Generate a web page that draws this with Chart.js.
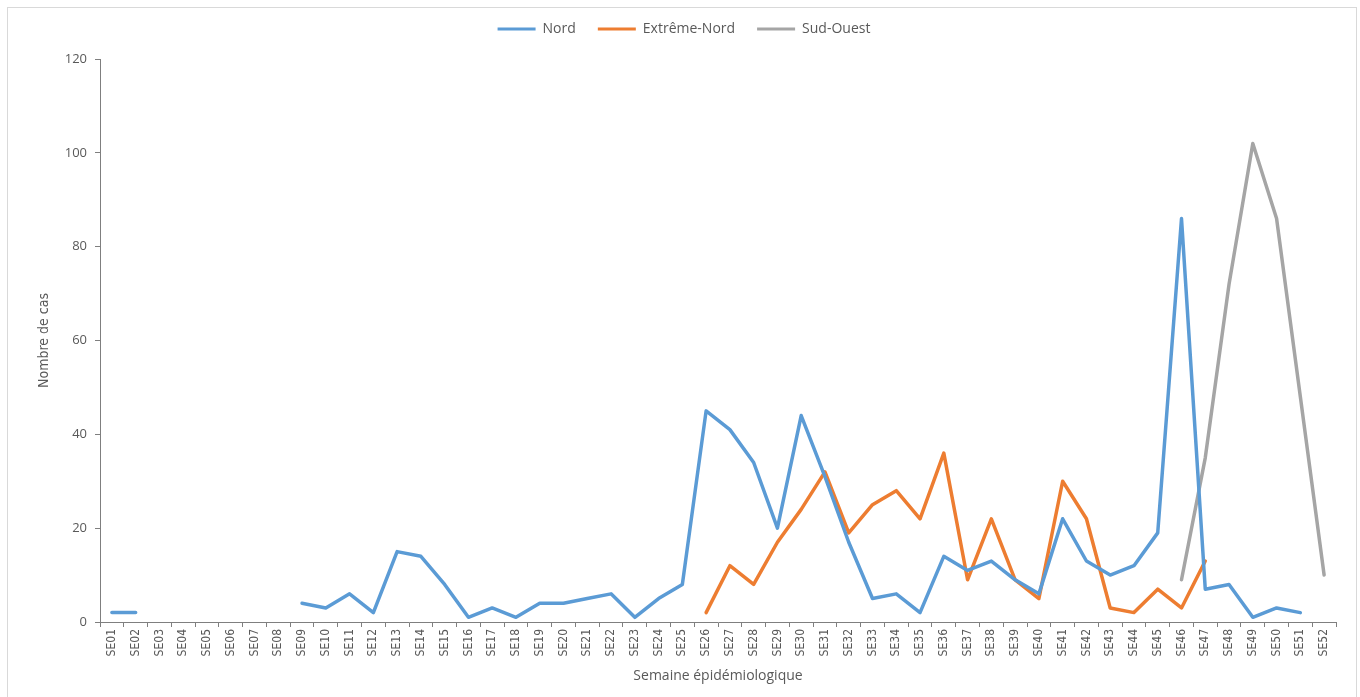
<!DOCTYPE html>
<html>
<head>
<meta charset="utf-8">
<script src="https://cdn.jsdelivr.net/npm/chart.js@4"></script>
<style>
  html, body { margin: 0; padding: 0; background: #fff; }
  #wrap { width: 1360px; height: 697px; }
</style>
</head>
<body>
<div id="wrap"><canvas id="casChart" width="1360" height="697"></canvas></div>
<script>
// Semaines épidémiologiques SE01..SE52
const semaines = [];
for (let i = 1; i <= 52; i++) semaines.push('SE' + String(i).padStart(2, '0'));

// Nombre de cas par semaine (null = pas de donnée)
const nord = [2, 2, null, null, null, null, null, null, 4, 3,
  6, 2, 15, 14, 8, 1, 3, 1, 4, 4,
  5, 6, 1, 5, 8, 45, 41, 34, 20, 44,
  31, 17, 5, 6, 2, 14, 11, 13, 9, 6,
  22, 13, 10, 12, 19, 86, 7, 8, 1, 3,
  2, null];
const extremeNord = [null, null, null, null, null, null, null, null, null, null,
  null, null, null, null, null, null, null, null, null, null,
  null, null, null, null, null, 2, 12, 8, 17, 24,
  32, 19, 25, 28, 22, 36, 9, 22, 9, 5,
  30, 22, 3, 2, 7, 3, 13, null, null, null,
  null, null];
const sudOuest = [null, null, null, null, null, null, null, null, null, null,
  null, null, null, null, null, null, null, null, null, null,
  null, null, null, null, null, null, null, null, null, null,
  null, null, null, null, null, null, null, null, null, null,
  null, null, null, null, null, 9, 35, 72, 102, 86,
  48, 10];

const yTicks = [0, 20, 40, 60, 80, 100, 120];

const grisTexte = '#595959';
const grisAxe = '#7f7f7f';
const policeEtroite = "'DejaVu Sans Condensed', 'Liberation Sans Narrow', 'Roboto Condensed', sans-serif";

// cadre gris clair autour du graphique
const cadre = {
  id: 'cadre',
  beforeDraw(chart) {
    const ctx = chart.ctx;
    ctx.save();
    ctx.strokeStyle = '#d9d9d9';
    ctx.lineWidth = 1;
    ctx.strokeRect(7.5, 7.5, 1349, 700);
    ctx.restore();
  }
};

// hauteur fixe de la légende pour caler la zone de tracé
const legendeFixe = {
  id: 'legendeFixe',
  beforeLayout(chart) {
    const leg = chart.legend;
    if (leg && !leg._fixe) {
      const fit = leg.fit;
      leg.fit = function () {
        fit.call(this);
        this.height = 59;
      };
      leg._fixe = true;
    }
  }
};

function serie(label, data, color) {
  return {
    label: label,
    data: data,
    borderColor: color,
    backgroundColor: color,
    borderWidth: 3.5,
    pointRadius: 0,
    pointHoverRadius: 0,
    tension: 0,
    spanGaps: false,
    borderJoinStyle: 'round',
    borderCapStyle: 'round'
  };
}

new Chart(document.getElementById('casChart'), {
  type: 'line',
  data: {
    labels: semaines,
    datasets: [
      serie('Nord', nord, '#5b9bd5'),
      serie('Extrême-Nord', extremeNord, '#ed7d31'),
      serie('Sud-Ouest', sudOuest, '#a5a5a5')
    ]
  },
  options: {
    responsive: false,
    animation: false,
    layout: { padding: { top: 0, left: 32, right: 24, bottom: 0 } },
    plugins: {
      legend: {
        position: 'top',
        labels: {
          boxWidth: 38,
          boxHeight: 3,
          padding: 22,
          color: grisTexte,
          font: { family: 'Open Sans', size: 14 },
          generateLabels(chart) {
            const items = Chart.defaults.plugins.legend.labels.generateLabels(chart);
            items.forEach(it => { it.lineWidth = 0; });
            return items;
          }
        }
      },
      tooltip: { enabled: false }
    },
    scales: {
      x: {
        offset: true,
        afterFit(scale) { scale.height = 75; },
        grid: {
          offset: true,
          drawOnChartArea: false,
          drawTicks: true,
          tickLength: 5,
          color: grisAxe
        },
        border: { display: true, color: grisAxe, width: 1 },
        ticks: {
          autoSkip: false,
          minRotation: 90,
          maxRotation: 90,
          padding: 2,
          color: grisTexte,
          font: { family: policeEtroite, size: 12 }
        },
        title: {
          display: true,
          text: 'Semaine épidémiologique',
          color: grisTexte,
          font: { family: 'Open Sans', size: 14 },
          padding: { top: 0, bottom: 13 }
        }
      },
      y: {
        min: 0,
        max: 120,
        afterFit(scale) { scale.width = 68; },
        afterBuildTicks(scale) { scale.ticks = yTicks.map(v => ({ value: v })); },
        grid: {
          drawOnChartArea: false,
          drawTicks: true,
          tickLength: 5,
          color: grisAxe
        },
        border: { display: true, color: grisAxe, width: 1 },
        ticks: {
          padding: 8,
          color: grisTexte,
          font: { family: 'Open Sans', size: 13 }
        },
        title: {
          display: true,
          text: 'Nombre de cas',
          color: grisTexte,
          font: { family: policeEtroite, size: 14 },
          padding: { top: 4, bottom: 0 }
        }
      }
    }
  },
  plugins: [cadre, legendeFixe]
});
</script>
</body>
</html>
